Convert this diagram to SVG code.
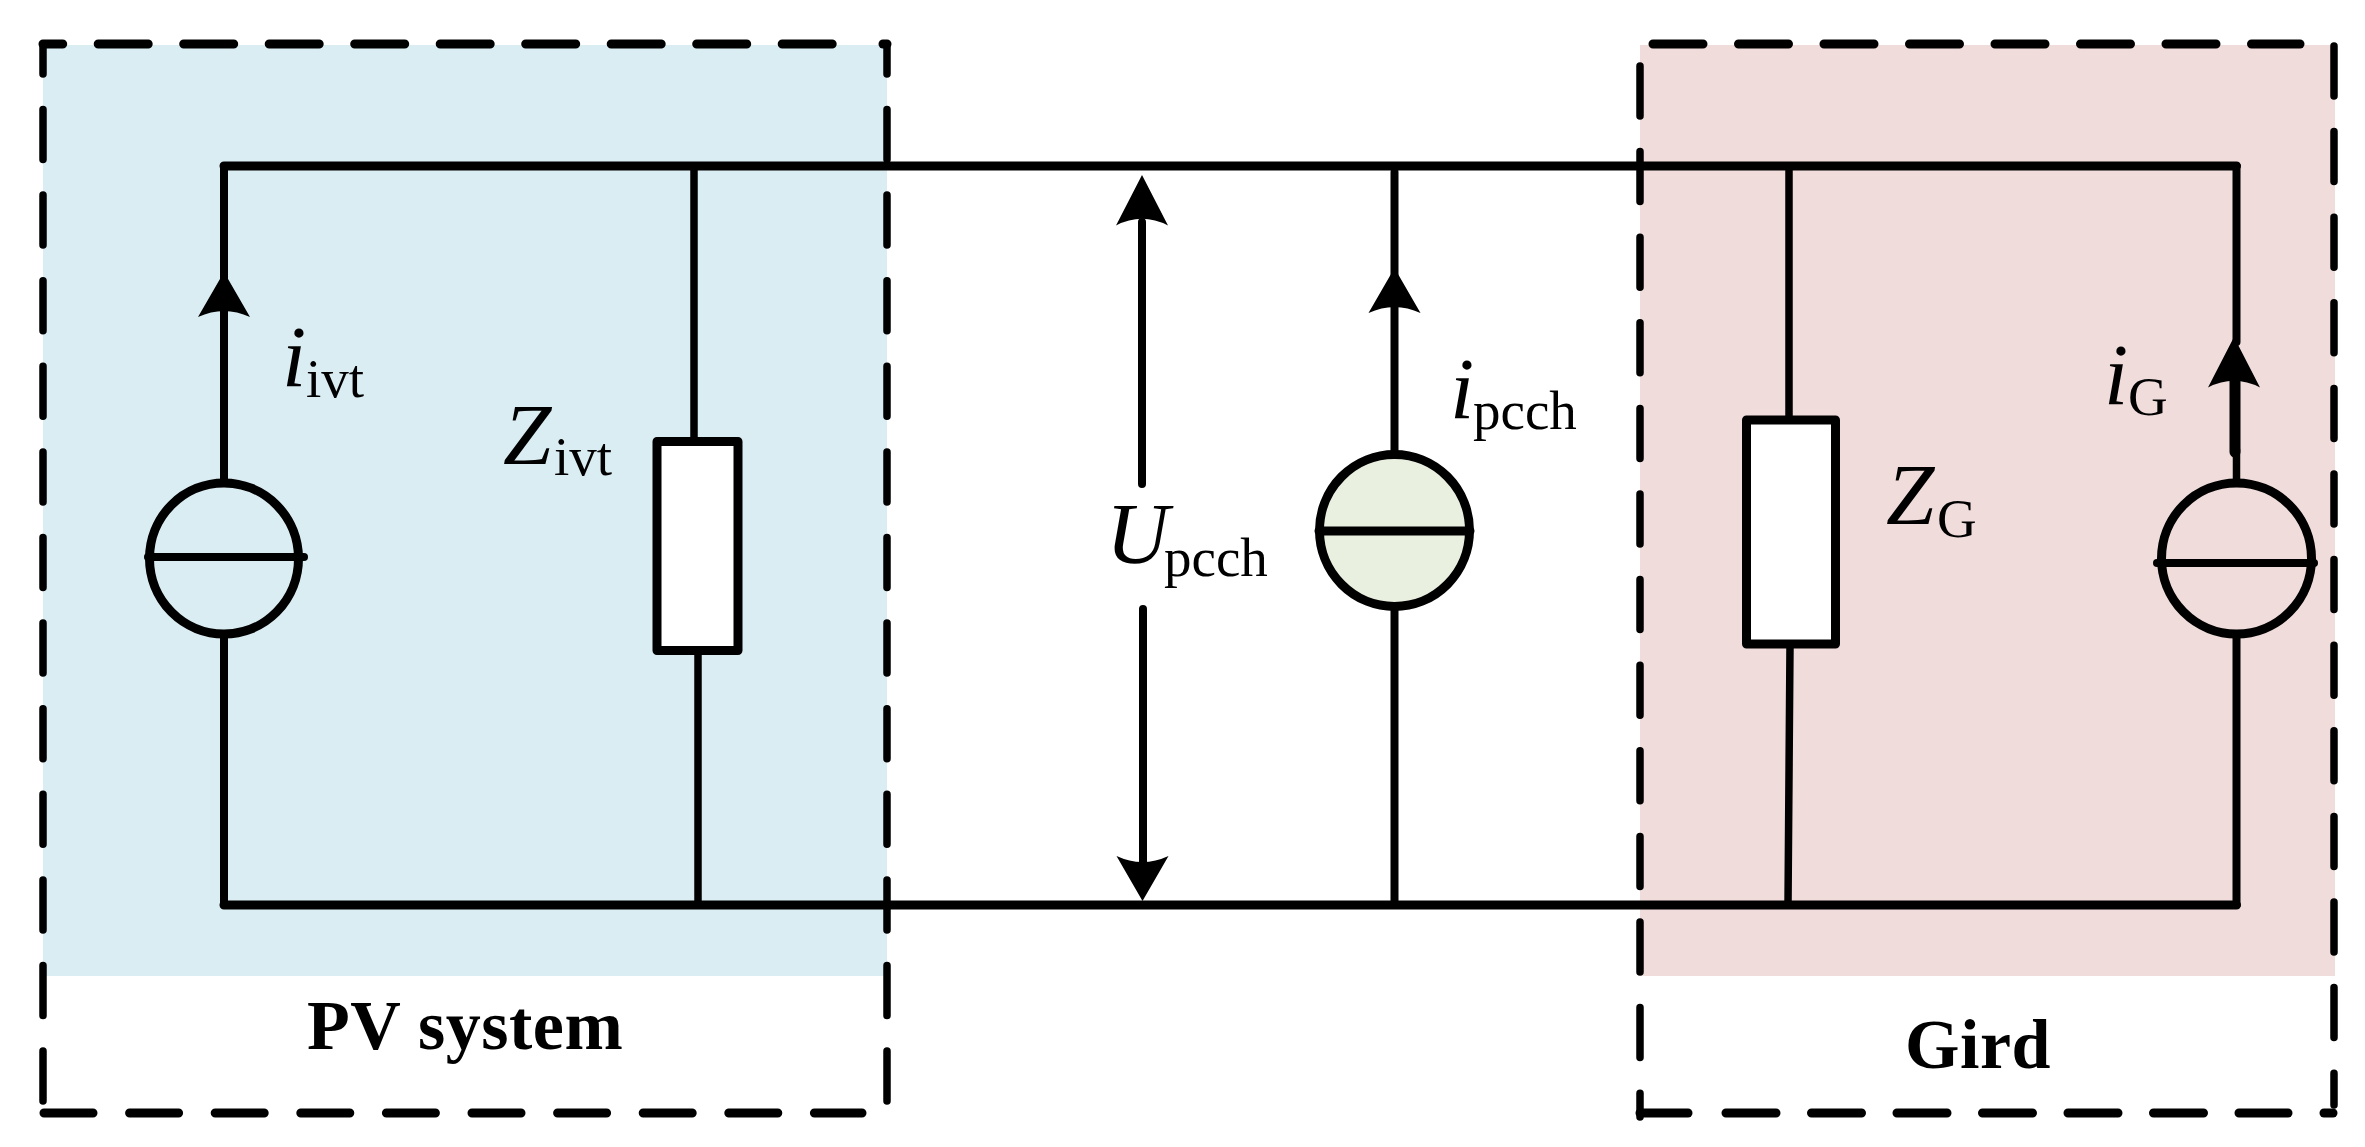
<svg xmlns="http://www.w3.org/2000/svg" xmlns:xlink="http://www.w3.org/1999/xlink" width="2365" height="1147" viewBox="0 0 2365 1147">
<style>
.w{stroke:#000;stroke-width:8;fill:none;stroke-linecap:round;stroke-linejoin:round}
.t{stroke-width:9}
.thin{stroke-width:7.500}
.c{stroke-width:9}
.d{stroke:#000;fill:none;stroke-width:7.500;stroke-linecap:round}
.dh{stroke-width:9}
.dv{stroke-dasharray:50 35.6}
.dx{stroke-dasharray:50 35.5}
.lab{font-family:"Liberation Serif","Times New Roman",serif;font-size:87px;fill:#000}
.lab .m{font-style:italic}
.lab .s{font-size:55px}
.title{font-family:"Liberation Serif","Times New Roman",serif;font-size:70px;font-weight:bold;fill:#000;letter-spacing:.5px}
.r{fill:#fff;stroke:#000;stroke-width:9;stroke-linejoin:round}
</style>
<defs>
<path id="ah" d="M0 0L26 45Q0 33 -26 45Z" fill="#000"/>
</defs>
<rect width="2365" height="1147" fill="#fff"/>
<g id="pv-region">
<rect x="43" y="45" width="844" height="931" fill="#daedf3"/>
</g>
<g id="grid-region">
<rect x="1640" y="45" width="695" height="931" fill="#f0dcdb"/>
</g>
<g id="connectors">
<path class="w t" d="M224 166H2236.500M224 905H2236.500"/>
<path class="w" d="M224 166V480M224 638V905"/>
<path class="w thin" d="M694 166V440M698 652V905"/>
<path class="w" d="M1142 222V484M1143 609V862"/>
<path class="w" d="M1394.500 172V452M1394.500 610V905"/>
<path class="w thin" d="M1789 166V418M1790 646L1788 905"/>
<path class="w" d="M2236.500 166V342M2236.500 638V905"/>
<path class="w" style="stroke-width:11" d="M2235 380V452"/>
<path class="w thin" d="M2236.500 450V482"/>
<use xlink:href="#ah" href="#ah" transform="translate(224 272)"/>
<use xlink:href="#ah" href="#ah" transform="translate(1142 175) scale(1 1.12)"/>
<use xlink:href="#ah" href="#ah" transform="translate(1394.500 268)"/>
<use xlink:href="#ah" href="#ah" transform="translate(1142.500 901) rotate(180)"/>
<use xlink:href="#ah" href="#ah" transform="translate(2234 337) scale(1 1.12)"/>
</g>
<g id="source-ivt">
<ellipse cx="224" cy="558.500" rx="74.500" ry="75.500" class="w c"/>
<path class="w" d="M148 557H304"/>
</g>
<g id="impedance-ivt">
<rect class="r" x="657" y="441.500" width="81" height="209"/>
</g>
<g id="source-pcch">
<ellipse cx="1394.500" cy="530.500" rx="75" ry="76" class="w c" style="fill:#e9f0e0"/>
<path class="w t" d="M1319 531H1470"/>
</g>
<g id="impedance-g">
<rect class="r" x="1746.500" y="420" width="89" height="224"/>
</g>
<g id="source-g">
<ellipse cx="2236.500" cy="558.500" rx="75" ry="75.500" class="w c"/>
<path class="w" d="M2157 563H2314"/>
</g>
<g id="pv-boundary">
<path class="d dx dh" stroke-dashoffset="30.300" d="M43 44H837"/>
<path class="d dh" d="M883 44H887"/>
<path class="d dv" stroke-dashoffset="21.100" d="M43 45V1101"/>
<path class="d dv" stroke-dashoffset="21.100" d="M887 45V1102"/>
<path class="d dh" stroke-dasharray="49 36.600" d="M44 1113H862"/>
</g>
<g id="grid-boundary">
<path class="d dx dh" d="M1653 44H2300"/>
<path class="d dv" stroke-dashoffset="-21" d="M1640 45V1117"/>
<path class="d dv" d="M2334 46V1105"/>
<path class="d dh" d="M1640 1113H1688"/>
<path class="d dx dh" d="M1726 1113H2288"/>
<path class="d dh" d="M2324 1113H2333"/>
</g>
<g id="labels">
<text class="lab"><tspan class="m" x="282" y="386">i</tspan><tspan class="s" x="306" y="397">ivt</tspan></text>
<text class="lab"><tspan class="m" x="503" y="464">Z</tspan><tspan class="s" x="554" y="475">ivt</tspan></text>
<text class="lab"><tspan class="m" x="1106" y="563">U</tspan><tspan class="s" x="1164" y="576">pcch</tspan></text>
<text class="lab"><tspan class="m" x="1450" y="418">i</tspan><tspan class="s" x="1473" y="429">pcch</tspan></text>
<text class="lab"><tspan class="m" x="2104" y="404">i</tspan><tspan class="s" x="2128" y="415">G</tspan></text>
<text class="lab"><tspan class="m" x="1886" y="524">Z</tspan><tspan class="s" x="1937" y="537">G</tspan></text>
<text class="title" x="307" y="1049">PV system</text>
<text class="title" x="1905" y="1068">Gird</text>
</g>
</svg>
